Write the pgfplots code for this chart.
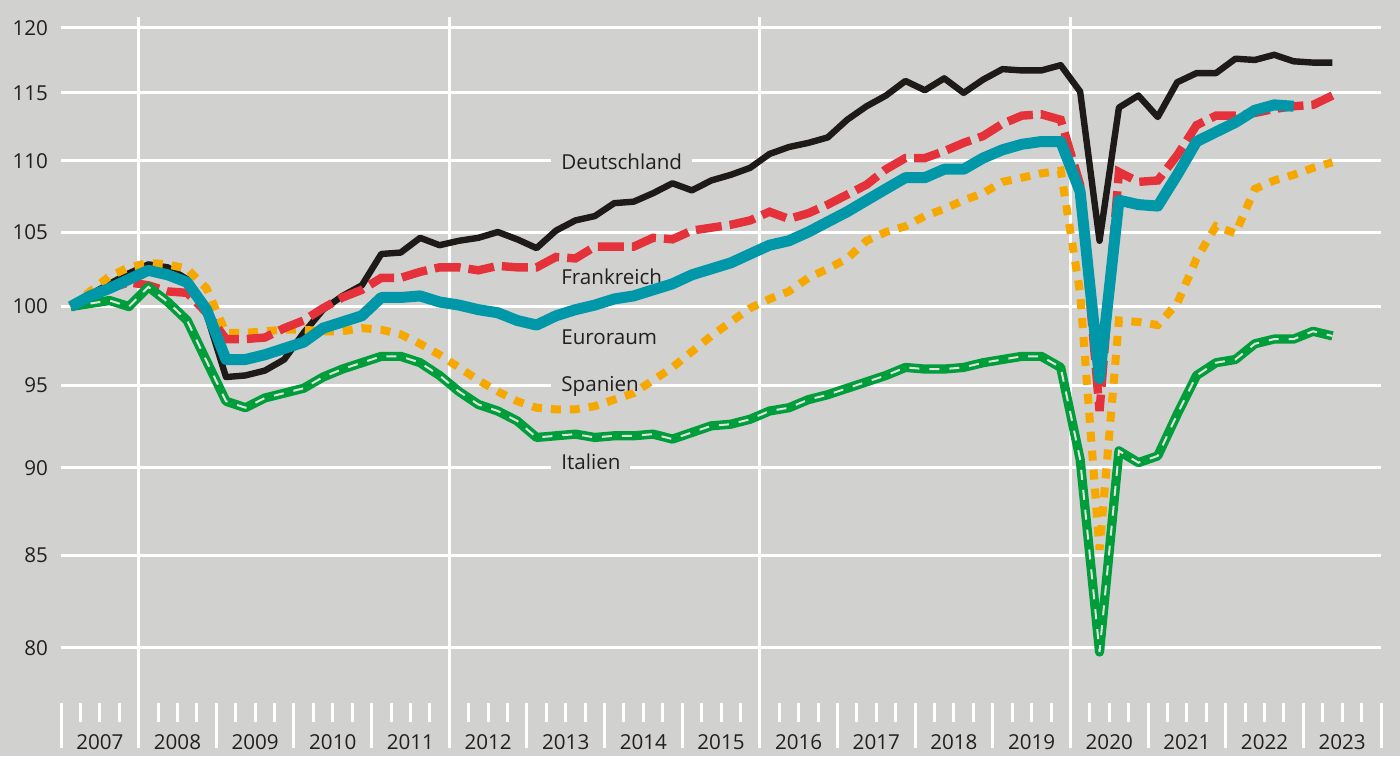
\documentclass[border=0pt]{standalone}
\usepackage{fontspec}
\setmainfont{Open Sans}
\usepackage{pgfplots}
\pgfplotsset{compat=1.18}
\usepackage{pgfplotstable}
\definecolor{bg}{RGB}{209,209,207}
\definecolor{txt}{RGB}{35,31,32}
\definecolor{cDE}{RGB}{29,26,23}
\definecolor{cFR}{RGB}{228,49,58}
\definecolor{cES}{RGB}{247,168,0}
\definecolor{cIT}{RGB}{0,158,58}
\definecolor{cEA}{RGB}{0,152,168}
\definecolor{cITin}{RGB}{225,225,223}
\newcommand{\lf}{\fontsize{10.3pt}{12pt}\selectfont}

\pgfplotstableread{
i DE FR ES IT
0 100.0 100.0 100.0 100.0
1 100.8 100.6 101.0 100.2
2 101.5 101.2 102.0 100.4
3 102.2 101.6 102.6 100.0
4 102.8 101.4 102.9 101.3
5 102.6 101.0 102.8 100.3
6 101.8 100.9 102.5 99.1
7 99.5 99.6 101.2 96.5
8 95.5 97.9 98.3 94.0
9 95.6 97.9 98.3 93.6
10 95.9 98.0 98.4 94.2
11 96.6 98.6 98.5 94.5
12 98.3 99.1 98.5 94.8
13 99.8 99.9 98.4 95.5
14 100.7 100.6 98.4 96.0
15 101.4 101.1 98.6 96.4
16 103.5 101.9 98.5 96.8
17 103.6 101.9 98.2 96.8
18 104.6 102.3 97.6 96.4
19 104.1 102.6 96.9 95.6
20 104.4 102.6 96.1 94.6
21 104.6 102.4 95.3 93.8
22 105.0 102.7 94.6 93.4
23 104.5 102.6 94.0 92.8
24 103.9 102.6 93.6 91.8
25 105.1 103.3 93.5 91.9
26 105.8 103.2 93.5 92.0
27 106.1 104.0 93.7 91.8
28 107.0 104.0 94.1 91.9
29 107.1 104.0 94.5 91.9
30 107.7 104.6 95.3 92.0
31 108.4 104.5 96.1 91.7
32 107.9 105.1 97.1 92.1
33 108.6 105.3 98.1 92.5
34 109.0 105.5 99.0 92.6
35 109.5 105.8 99.9 92.9
36 110.5 106.4 100.5 93.4
37 111.0 105.9 101.0 93.6
38 111.3 106.3 101.9 94.1
39 111.7 106.9 102.5 94.4
40 113.0 107.6 103.2 94.8
41 114.0 108.3 104.4 95.2
42 114.8 109.4 105.0 95.6
43 115.9 110.2 105.4 96.1
44 115.2 110.2 106.1 96.0
45 116.1 110.7 106.6 96.0
46 115.0 111.3 107.2 96.1
47 116.0 111.8 107.7 96.4
48 116.8 112.7 108.5 96.6
49 116.7 113.3 108.8 96.8
50 116.7 113.4 109.1 96.8
51 117.1 113.0 109.3 96.1
52 115.1 108.3 100.9 90.5
53 104.4 93.4 85.3 79.8
54 113.9 109.2 99.1 91.0
55 114.8 108.5 99.0 90.3
56 113.2 108.6 98.8 90.7
57 115.8 110.4 100.2 93.2
58 116.5 112.6 103.2 95.6
59 116.5 113.3 105.4 96.4
60 117.6 113.3 104.9 96.6
61 117.5 113.5 108.0 97.6
62 117.9 113.8 108.6 97.9
63 117.4 114.0 109.0 97.9
64 117.3 114.1 109.5 98.4
65 117.3 114.8 109.9 98.1
}\tabA

\pgfplotstableread{
i EA
0 100.0
1 100.7
2 101.2
3 101.8
4 102.4
5 102.1
6 101.6
7 99.8
8 96.6
9 96.6
10 96.9
11 97.3
12 97.7
13 98.6
14 99.0
15 99.4
16 100.6
17 100.6
18 100.7
19 100.3
20 100.1
21 99.8
22 99.6
23 99.1
24 98.8
25 99.4
26 99.8
27 100.1
28 100.5
29 100.7
30 101.1
31 101.5
32 102.1
33 102.5
34 102.9
35 103.5
36 104.1
37 104.4
38 105.0
39 105.7
40 106.4
41 107.2
42 108.0
43 108.8
44 108.8
45 109.4
46 109.4
47 110.2
48 110.8
49 111.2
50 111.4
51 111.4
52 107.8
53 95.4
54 107.2
55 106.9
56 106.8
57 109.0
58 111.4
59 112.1
60 112.8
61 113.7
62 114.1
63 114.0
}\tabB

\begin{document}
\begin{tikzpicture}
\fill[bg] (0pt,0pt) rectangle (700pt,378pt);
\begin{axis}[
  at={(30.5pt,4pt)}, anchor=south west,
  scale only axis, width=660pt, height=365.5pt,
  xmin=2007, xmax=2024,
  ymode=log, ymin=74.94, ymax=120.86,
  axis line style={draw=none},
  xtick=\empty,
  ytick={80,85,90,95,100,105,110,115,120},
  yticklabels={80,85,90,95,100,105,110,115,120},
  yminorticks=false,
  ymajorgrids, grid style={white, line width=1.5pt},
  major tick length=0pt,
  tick style={draw=none},
  yticklabel style={font=\lf, text=txt, xshift=-3pt},
  clip=false,
]
% vertical white lines
\pgfplotsinvokeforeach{2008,2012,2016,2020}{
  \draw[white, line width=1.5pt] (axis cs:#1,74.94) -- (axis cs:#1,120.86);
}
% bottom ticks
\pgfplotsinvokeforeach{2007,2008,...,2024}{
  \draw[white, line width=1.5pt] (axis cs:#1,74.94) -- (axis cs:#1,77.17);
}
\pgfplotsinvokeforeach{2007.25,2007.5,...,2023.75}{
  \draw[white, line width=1.5pt] (axis cs:#1,76.22) -- (axis cs:#1,77.17);
}
% year labels
\pgfplotsinvokeforeach{2007,2008,...,2023}{
  \node[font=\lf, text=txt, anchor=base, inner sep=0pt] at (axis cs:#1.5,74.89) {#1};
}
% series labels
\tikzset{lab/.style={fill=bg, inner xsep=5pt, inner ysep=2pt, anchor=base west, font=\lf, text=txt}}
\node[lab] at (axis cs:2013.31,109.36) {Deutschland};
\node[lab] at (axis cs:2013.31,101.44) {Frankreich};
\node[lab] at (axis cs:2013.31,97.53) {Euroraum};
\node[lab] at (axis cs:2013.31,94.58) {Spanien};
\node[lab] at (axis cs:2013.31,89.88) {Italien};

\addplot[cDE, line width=3.2pt, line join=round] table[x expr={2007+(\thisrow{i}+0.5)/4}, y=DE]{\tabA};
\addplot[cES, line width=4pt, dash pattern=on 5pt off 4.5pt] table[x expr={2007+(\thisrow{i}+0.5)/4}, y=ES]{\tabA};
\addplot[cFR, line width=4.2pt, dash pattern=on 13pt off 4pt] table[x expr={2007+(\thisrow{i}+0.5)/4}, y=FR]{\tabA};
\addplot[cIT, line width=4.6pt, line join=round] table[x expr={2007+(\thisrow{i}+0.5)/4}, y=IT]{\tabA};
\addplot[cITin, line width=1pt, dash pattern=on 5pt off 5pt] table[x expr={2007+(\thisrow{i}+0.5)/4}, y=IT]{\tabA};
\addplot[cEA, line width=5.5pt, line join=round] table[x expr={2007+(\thisrow{i}+0.5)/4}, y=EA]{\tabB};
\end{axis}
\end{tikzpicture}
\end{document}
